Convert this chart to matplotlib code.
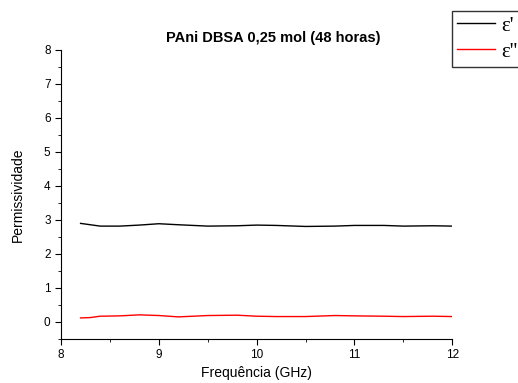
import matplotlib.pyplot as plt
import numpy as np
from matplotlib.ticker import MultipleLocator

# dados
freq = [8.2, 8.3, 8.4, 8.6, 8.8, 9.0, 9.2, 9.5, 9.8, 10.0, 10.2, 10.5, 10.8, 11.0, 11.3, 11.5, 11.8, 12.0]
eps_re = [2.90, 2.86, 2.82, 2.82, 2.85, 2.89, 2.86, 2.82, 2.83, 2.85, 2.84, 2.81, 2.82, 2.84, 2.84, 2.82, 2.83, 2.82]
eps_im = [0.12, 0.13, 0.17, 0.18, 0.21, 0.19, 0.15, 0.19, 0.20, 0.17, 0.16, 0.16, 0.19, 0.18, 0.17, 0.16, 0.17, 0.16]

plt.rcParams['font.family'] = ['Liberation Sans', 'DejaVu Sans']

fig = plt.figure(figsize=(5.18, 3.83), dpi=100)
ax = fig.add_axes([0.1178, 0.1149, 0.7554, 0.7546])

l1, = ax.plot(freq, eps_re, color='black', lw=1)
l2, = ax.plot(freq, eps_im, color='red', lw=1)

ax.set_xlim(8, 12)
ax.set_ylim(-0.5, 8)
ax.xaxis.set_major_locator(MultipleLocator(1))
ax.xaxis.set_minor_locator(MultipleLocator(0.5))
ax.yaxis.set_major_locator(MultipleLocator(1))
ax.yaxis.set_minor_locator(MultipleLocator(0.5))
ax.tick_params(which='major', length=4, labelsize=8.5)
ax.tick_params(which='minor', length=2)
ax.spines['top'].set_visible(False)
ax.spines['right'].set_visible(False)

ax.set_xlabel("Frequência (GHz)", fontsize=10, labelpad=3)
ax.set_ylabel("Permissividade", fontsize=10, labelpad=14)
ax.set_title("PAni DBSA 0,25 mol (48 horas)", fontsize=10.5, fontweight='bold',
             pad=6, x=0.542)

leg = fig.legend([l1, l2], ["ε'", "ε''"], loc='upper left',
                 bbox_to_anchor=(452/518, 1 - 11/383),
                 prop={'family': 'Liberation Serif', 'size': 15},
                 frameon=True, fancybox=False, edgecolor='black',
                 handlelength=1.8, borderpad=0.25, labelspacing=0.3,
                 handletextpad=0.3, borderaxespad=0)
leg.get_frame().set_linewidth(1)

fig.savefig("out.png", dpi=100)
